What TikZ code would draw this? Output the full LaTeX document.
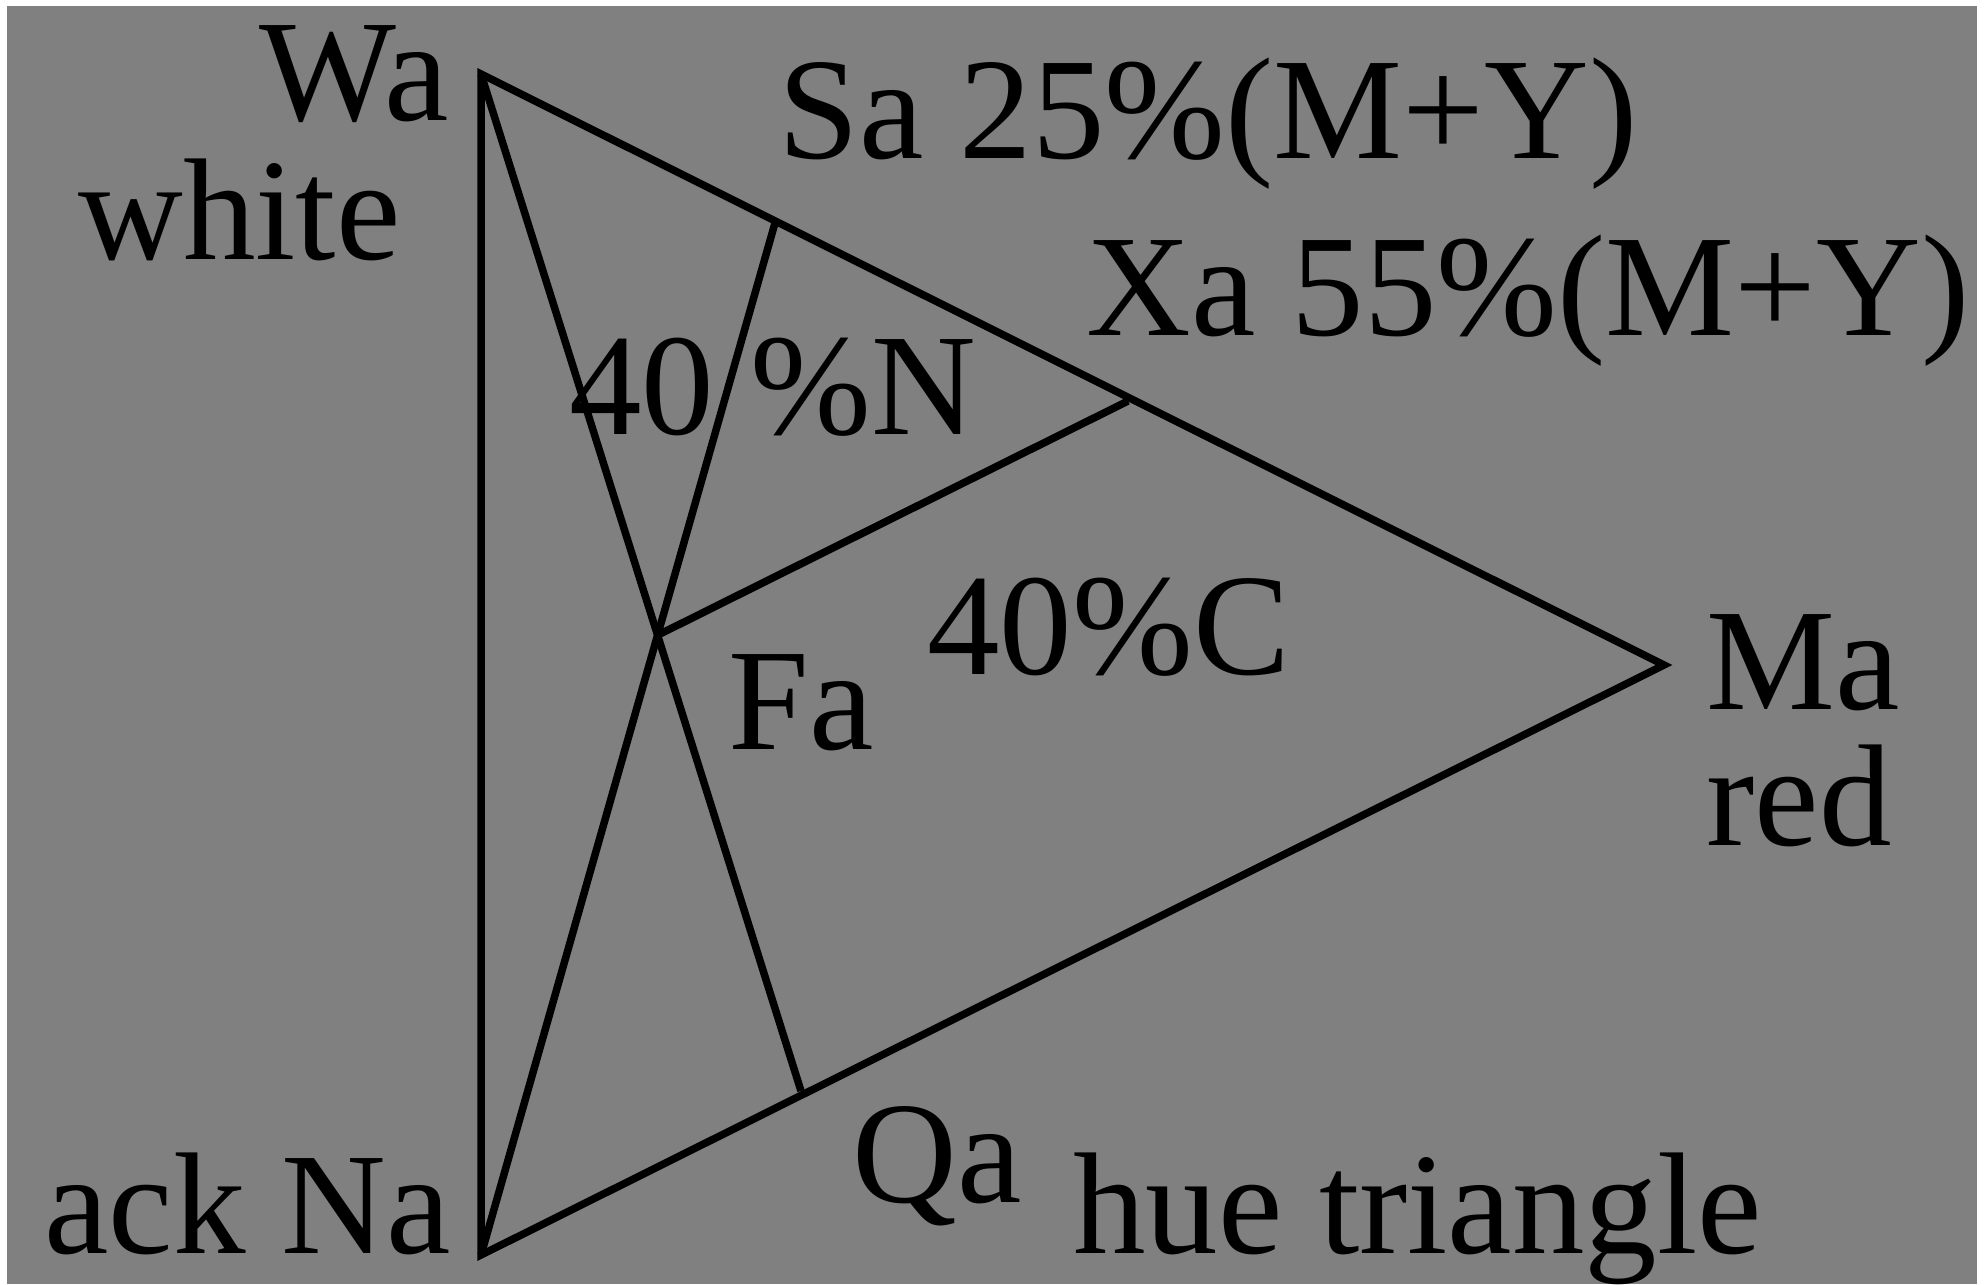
\documentclass[tikz,border=0pt]{standalone}
\usepackage{fontspec}
\setmainfont{Liberation Serif}
\begin{document}
\begin{tikzpicture}[x=0.5pt,y=-0.5pt,
  lbl/.style={anchor=base west,inner sep=0pt,font=\fontsize{72.5}{80}\selectfont},
  edge/.style={line width=3.75pt}]
\useasboundingbox (0,0) rectangle (1984,1284);
\fill[fill=white] (0,0) rectangle (1984,1284);
\fill[fill={rgb,255:red,128;green,128;blue,128}] (7,6) rectangle (1977,1284);
\coordinate (W) at (481,74);
\coordinate (N) at (481,1255);
\coordinate (M) at (1664,665);
\coordinate (F) at (658,635);
\coordinate (S) at (775,223);
\coordinate (X) at (1128,401);
\coordinate (Q) at (801,1091);
\draw[edge] (W) -- (M) -- (N) -- cycle;
\draw[edge] (W) -- (Q);
\draw[edge] (N) -- (S);
\draw[edge] (F) -- (X);
\node[lbl] (tW) at (259,120) {Wa};
\node[lbl] (tWhite) at (78,259) {white};
\node[lbl] (tS) at (778,158) {Sa 25\%(M+Y)};
\node[lbl] (tX) at (1086,335) {Xa 55\%(M+Y)};
\node[lbl] (tN4) at (569,434) {40\kern18pt\%N};
\node[lbl] (tC4) at (927,674) {40\%C};
\node[lbl] (tF) at (728,749) {Fa};
\node[lbl] (tM) at (1706,709) {Ma};
\node[lbl] (tRed) at (1706,845) {red};
\node[lbl] (tQ) at (852,1202) {Qa};
\node[lbl] (tHue) at (1073,1253) {hue triangle};
\node[lbl] (tNa) at (44,1253) {ack Na};
\end{tikzpicture}
\end{document}
